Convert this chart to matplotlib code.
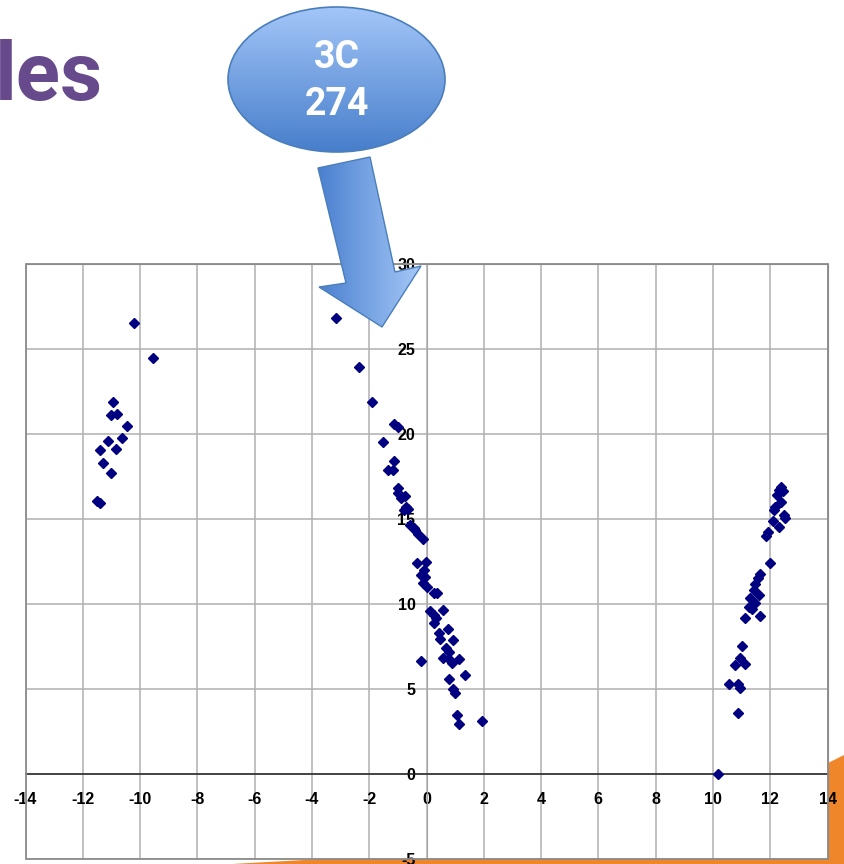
import numpy as np
import matplotlib
matplotlib.use("Agg")
import matplotlib.pyplot as plt
from matplotlib.patches import Ellipse, Polygon, Rectangle
from matplotlib.colors import to_rgb

# --- data: three groups of measurements -------------------------------------
west_x = [-10.20, -9.54, -10.94, -11.02, -10.81, -10.46, -10.62, -11.11, -11.39,
          -10.84, -11.29, -11.02, -11.50, -11.40]
west_y = [26.55, 24.49, 21.86, 21.12, 21.16, 20.47, 19.75, 19.61, 19.06,
          19.12, 18.31, 17.69, 16.06, 15.96]

core_x = [-3.16, -2.37, -1.90, -1.13, -1.01, -1.51, -1.13, -1.36, -1.16, -1.01,
          -1.00, -0.75, -0.89, -0.71, -0.80, -0.63, -0.57, -0.45, -0.39, -0.28,
          -0.13, -0.34, -0.01, -0.08, -0.20, -0.05, -0.13, 0.01, 0.25, 0.36,
          0.13, 0.57, 0.25, 0.34, 0.27, 0.75, 0.42, 0.46, 0.92, 0.68,
          0.77, 0.59, 0.77, 1.15, 0.89, -0.19, 1.33, 0.79, 0.94, 1.01,
          1.08, 1.15, 1.93]
core_y = [26.82, 23.92, 21.90, 20.59, 20.39, 19.51, 18.41, 17.88, 17.86, 16.84,
          16.51, 16.35, 16.22, 15.69, 15.53, 15.57, 14.65, 14.45, 14.35, 14.12,
          13.81, 12.43, 12.49, 12.00, 11.71, 11.57, 11.22, 10.98, 10.63, 10.66,
          9.61, 9.65, 9.35, 9.16, 8.90, 8.53, 8.28, 7.92, 7.88, 7.43,
          7.19, 6.84, 6.75, 6.78, 6.55, 6.63, 5.82, 5.57, 4.98, 4.78,
          3.45, 2.94, 3.14]

east_x = [12.39, 12.30, 12.45, 12.24, 12.38, 12.18, 12.12, 12.47, 12.50, 12.10,
          12.30, 11.91, 11.85, 12.00, 11.66, 11.56, 11.48, 11.42, 11.60, 11.31,
          11.48, 11.25, 11.37, 11.66, 11.13, 11.02, 10.93, 10.78, 11.13, 10.55,
          10.86, 10.93, 10.88, 10.19]
east_y = [16.90, 16.71, 16.65, 16.41, 16.02, 15.72, 15.53, 15.24, 15.04, 14.90,
          14.51, 14.25, 14.00, 12.39, 11.75, 11.51, 11.18, 10.82, 10.53, 10.34,
          10.04, 9.84, 9.69, 9.29, 9.16, 7.53, 6.81, 6.41, 6.47, 5.29,
          5.29, 5.04, 3.61, 0.00]

x_ticks = list(range(-14, 15, 2))
y_ticks = list(range(-5, 31, 5))
x_tick_labels = [str(v) for v in x_ticks]
y_tick_labels = [str(v) for v in y_ticks]

callout_text = "3C\n274"
heading_text = "les"

# --- figure -------------------------------------------------------------------
W, H = 844, 864
fig = plt.figure(figsize=(W / 100, H / 100), dpi=100)
fig.patch.set_facecolor("white")

# decorative orange band behind the chart (bottom-right corner)
bg = fig.add_axes([0, 0, 1, 1], zorder=0)
bg.set_xlim(0, W)
bg.set_ylim(H, 0)
bg.axis("off")
bg.add_patch(Polygon([(232, 864), (520, 848), (700, 815), (828, 763),
                      (844, 755), (844, 864)], closed=True,
                     facecolor="#F0862A", edgecolor="none"))

# scatter chart with Excel-like crossing axes
ax = fig.add_axes([25.5 / W, 1 - 859 / H, 802 / W, 595 / H], zorder=2)
ax.set_facecolor("white")
ax.set_xlim(-14, 14)
ax.set_ylim(-5, 30)

for xs, ys in ((west_x, west_y), (core_x, core_y), (east_x, east_y)):
    ax.plot(xs, ys, linestyle="none", marker="D", ms=5.6,
            color="#000080", mec="#000080", zorder=4)

ax.set_xticks(x_ticks)
ax.set_yticks(y_ticks)
ax.set_xticklabels(x_tick_labels)
ax.set_yticklabels(y_tick_labels)
ax.grid(True, linewidth=1.1)
for line, val in zip(ax.get_xgridlines(), x_ticks):
    line.set_color("#a6a6a6")
for line, val in zip(ax.get_ygridlines(), y_ticks):
    line.set_color("#3a3a3a" if val % 10 == 0 else "#8c8c8c")
ax.set_axisbelow(True)

ax.spines["left"].set_position(("data", 0))
ax.spines["bottom"].set_position(("data", 0))
ax.spines["left"].set_color("#a6a6a6")
ax.spines["bottom"].set_color("#222222")
ax.spines["bottom"].set_linewidth(1.1)
ax.spines["right"].set_color("#8c8c8c")
ax.spines["top"].set_color("#8c8c8c")
ax.add_patch(Rectangle((0, 0), 1, 1, transform=ax.transAxes, fill=False,
                       edgecolor="#8c8c8c", linewidth=1.3, zorder=5,
                       clip_on=False))

tick_font = dict(family=["Liberation Sans Narrow", "Liberation Sans", "DejaVu Sans"],
                 size=11.5, weight="bold")
ax.tick_params(axis="both", length=0)
ax.tick_params(axis="x", pad=13)
ax.tick_params(axis="y", pad=8)
for lab in ax.get_xticklabels() + ax.get_yticklabels():
    lab.set_fontfamily(tick_font["family"])
    lab.set_fontsize(tick_font["size"])
    lab.set_fontweight(tick_font["weight"])
    lab.set_color("black")

# --- overlay: heading fragment, callout bubble and block arrow ----------------
ov = fig.add_axes([0, 0, 1, 1], zorder=10)
ov.patch.set_visible(False)
ov.axis("off")

ov.text(-5, 100, heading_text, ha="left", va="baseline", fontsize=59,
        fontweight="bold", family=["Roboto", "DejaVu Sans"], color="#664A8B")


def vertical_gradient(top, bottom, n=256):
    t = np.linspace(0, 1, n)[:, None, None]
    return (1 - t) * np.array(to_rgb(top)) + t * np.array(to_rgb(bottom))


def horizontal_gradient(left, right, n=256):
    t = np.linspace(0, 1, n)[None, :, None]
    return (1 - t) * np.array(to_rgb(left)) + t * np.array(to_rgb(right))


# bubble
bubble = Ellipse((336.5, 79.5), 217, 145, facecolor="none",
                 edgecolor="#4A7EBB", linewidth=1.2, zorder=3)
ov.add_patch(bubble)
img = ov.imshow(vertical_gradient("#A3C6F8", "#477ECB"),
                extent=(228, 445, 152, 7), aspect="auto", zorder=2,
                interpolation="bilinear")
img.set_clip_path(bubble)
ov.text(336.5, 81, callout_text, ha="center", va="center", color="white",
        fontsize=27, fontweight="bold", family=["Roboto", "DejaVu Sans"],
        linespacing=1.35, zorder=4)

# arrow
arrow_pts = [(318, 168), (370, 157), (395, 272), (421, 266),
             (382, 327), (319, 287), (346, 283)]
arrow = Polygon(arrow_pts, closed=True, facecolor="none",
                edgecolor="#4A7EBB", linewidth=1.0, zorder=3)
ov.add_patch(arrow)
img2 = ov.imshow(horizontal_gradient("#4A80CF", "#A5C8F7"),
                 extent=(318, 421, 327, 157), aspect="auto", zorder=2,
                 interpolation="bilinear")
img2.set_clip_path(arrow)

ov.set_xlim(0, W)
ov.set_ylim(H, 0)

fig.savefig("out.png", dpi=100, facecolor="white")
